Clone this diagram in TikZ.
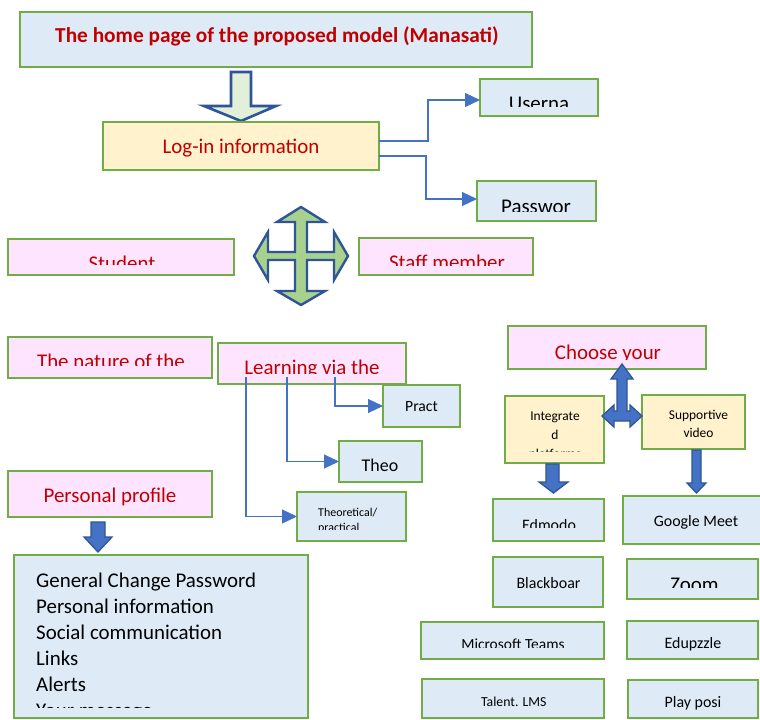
\documentclass[tikz,border=0pt]{standalone}
\usepackage{fontspec}
\setmainfont{Carlito}
\usetikzlibrary{arrows.meta}
\definecolor{bgreen}{HTML}{70AD47}
\definecolor{fblue}{HTML}{DEEBF7}
\definecolor{fpink}{HTML}{FFE4FF}
\definecolor{fyellow}{HTML}{FFF2CC}
\definecolor{tred}{HTML}{C00000}
\definecolor{cblue}{HTML}{4472C4}
\definecolor{dblue}{HTML}{2F5597}
\definecolor{lgreen}{HTML}{E2F0D9}
\definecolor{mgreen}{HTML}{A9D18E}
\newcommand\mkbox[6]{\node[#1, minimum width={(#5-#3)*1bp}, minimum height={(#6-#4)*1bp}] (#2) at ({(#3+#5)/2},{(#4+#6)/2}) {};}
\newcommand\cliptxt[7]{\begin{scope}\clip (0,#5) rectangle (760,#6); \node[#2, anchor=base] (#1) at (#3,#4) {#7}; \end{scope}}
\tikzset{
  box/.style={draw=bgreen, line width=2.4bp, inner sep=0pt, outer sep=0pt},
  bluebox/.style={box, fill=fblue},
  pinkbox/.style={box, fill=fpink},
  yellowbox/.style={box, fill=fyellow},
  fs/.style={font=\fontsize{#1}{#1}\selectfont},
  rt/.style={text=tred, inner sep=0pt},
  bt/.style={text=black, inner sep=0pt},
  conn/.style={draw=cblue, line width=1.1bp, -{Triangle[length=15bp,width=14bp]}},
  blockarrow/.style={fill=cblue, draw=dblue, line width=1.3bp, line join=miter},
  hollowarrow/.style={fill=lgreen, draw=dblue, line width=2.6bp, line join=miter},
  crossarrow/.style={fill=mgreen, draw=dblue, line width=2.4bp, line join=miter}
}
\begin{document}
\begin{tikzpicture}[x=1bp,y=-1bp]
\useasboundingbox (0,0) rectangle (760,720);
\fill[white] (0,0) rectangle (760,720);

% ---------- top ----------
\mkbox{bluebox}{title}{20}{12}{532}{67}
\node[rt, font=\bfseries\fontsize{21.4}{21.4}\selectfont, anchor=base] (ttitle) at (277,43) {The home page of the proposed model (Manasati)};

\draw[hollowarrow] (231,72) -- (251,72) -- (251,106) -- (276,106) -- (241,121) -- (204,106) -- (231,106) -- cycle;

\mkbox{yellowbox}{login}{103}{122}{379}{170}
\node[rt, fs=21, anchor=base] (tlogin) at (241,153) {Log-in information};

\mkbox{bluebox}{user}{480}{79}{598}{116}
\cliptxt{tuser}{bt, fs=21}{539}{110.5}{79}{106.5}{Userna}
\mkbox{bluebox}{pass}{477}{181}{596}{221}
\cliptxt{tpass}{bt, fs=21}{536}{213.5}{181}{211.5}{Passwor}

\draw[conn] ([yshift=5bp]login.east) -| ([xshift=-52bp,yshift=-2.5bp]user.west) -- ([yshift=-2.5bp]user.west);
\draw[conn] ([yshift=-10bp]login.east) -| ([xshift=-51bp,yshift=2bp]pass.west) -- ([yshift=2bp]pass.west);

% ---------- student / staff ----------
\mkbox{pinkbox}{student}{8}{239}{234}{275}
\cliptxt{tstudent}{rt, fs=21}{122}{270.5}{239}{264}{Student}
\mkbox{pinkbox}{staff}{359}{238}{533}{275}
\cliptxt{tstaff}{rt, fs=21}{447}{269.5}{238}{265}{Staff member}

\draw[crossarrow] (301,207) -- (325,222) -- (307,222) -- (307,252) -- (334,252) -- (334,232) -- (348,256) -- (334,280) -- (334,260) -- (307,260) -- (307,291) -- (325,291) -- (301,305) -- (277,291) -- (295,291) -- (295,260) -- (268,260) -- (268,280) -- (254,256) -- (268,232) -- (268,252) -- (295,252) -- (295,222) -- (277,222) -- cycle;

% ---------- left middle ----------
\mkbox{pinkbox}{nature}{8}{337}{212}{378}
\cliptxt{tnature}{rt, fs=21}{111}{368.5}{337}{365}{The nature of the}
\mkbox{pinkbox}{learn}{218}{343}{406}{384}
\cliptxt{tlearn}{rt, fs=21}{312}{374}{343}{373}{Learning via the}

\mkbox{bluebox}{pract}{383}{385}{460}{427}
\node[bt, fs=15.7, anchor=base] (tpract) at (421.5,411) {Pract};
\mkbox{bluebox}{theo}{339}{441}{422}{482}
\node[bt, fs=18, anchor=base] (ttheo) at (380,471) {Theo};
\mkbox{bluebox}{tp}{297}{492}{406}{541}
\node[bt, fs=12, anchor=base west] (ttp1) at (318,516) {Theoretical/};
\begin{scope}\clip (0,492) rectangle (760,529.3);
\node[bt, fs=12, anchor=base west] (ttp2) at (318,531) {practical};
\end{scope}

\draw[conn] ([xshift=23bp,yshift=7bp]learn.south) |- (pract.west);
\draw[conn] ([xshift=-25bp,yshift=7bp]learn.south) |- (theo.west);
\draw[conn] ([xshift=-66bp,yshift=7bp]learn.south) |- (tp.west);

\mkbox{pinkbox}{profile}{8}{471}{212}{517}
\node[rt, fs=21, anchor=base] (tprofile) at (110,502) {Personal profile};
\draw[blockarrow] (91,522) -- (105,522) -- (105,537) -- (112,537) -- (98,552) -- (84,537) -- (91,537) -- cycle;

\mkbox{bluebox}{list}{14}{555}{308}{718}
\begin{scope}\clip (14,555) rectangle (308,707.5);
\foreach \t [count=\i] in {General Change Password, Personal information, Social communication, Links, Alerts, Your message}
  \node[bt, fs=21, anchor=base west] (l\i) at (36,{587+26*(\i-1)}) {\t};
\end{scope}

% ---------- right ----------
\mkbox{pinkbox}{choose}{508}{326}{706}{369}
\cliptxt{tchoose}{rt, fs=21}{608}{359}{326}{359.3}{Choose your}

\mkbox{yellowbox}{integ}{505}{396}{604}{463}
\node[bt, fs=13.5, anchor=base] (tint1) at (555,420) {Integrate};
\node[bt, fs=13.5, anchor=base] (tint2) at (555,439) {d};
\cliptxt{tint3}{bt, fs=13.5}{555}{458}{396}{451.6}{platforms}
\mkbox{yellowbox}{supp}{642}{395}{745}{449}
\node[bt, fs=13.5, anchor=base] (tsup1) at (698.5,419.3) {Supportive};
\node[bt, fs=13.5, anchor=base] (tsup2) at (698.5,437.3) {video};

\draw[blockarrow] (622,364) -- (633,379) -- (627,379) -- (627,411) -- (630,411) -- (630,405) -- (642,416) -- (630,427) -- (630,421) -- (614,421) -- (614,427) -- (602,416) -- (614,405) -- (614,411) -- (617,411) -- (617,379) -- (611,379) -- cycle;

\draw[blockarrow] (546,464) -- (559,464) -- (559,482) -- (568,482) -- (553.5,493) -- (539,482) -- (546,482) -- cycle;
\draw[blockarrow] (692,450) -- (701,450) -- (701,483) -- (706,483) -- (696.5,493) -- (687,483) -- (692,483) -- cycle;

\mkbox{bluebox}{edmodo}{493}{499}{604}{541}
\cliptxt{tedmodo}{bt, fs=16}{549}{530.5}{499}{527.8}{Edmodo}
\mkbox{bluebox}{gmeet}{623}{496}{778}{544}
\node[bt, fs=16, anchor=base] (tgmeet) at (696,526.7) {Google Meet};

\mkbox{bluebox}{bboard}{493}{557}{603}{607}
\node[bt, fs=16, anchor=base] (tbboard) at (548.5,588.3) {Blackboar};
\mkbox{bluebox}{zoom}{627}{559}{758}{599}
\cliptxt{tzoom}{bt, fs=21}{694.5}{591}{559}{587.5}{Zoom}

\mkbox{bluebox}{teams}{421}{622}{604}{659}
\cliptxt{tteams}{bt, fs=15.5}{513}{649.5}{622}{647.6}{Microsoft Teams}
\mkbox{bluebox}{edpz}{627}{621}{758}{659}
\cliptxt{tedpz}{bt, fs=16}{693}{648.5}{621}{650.3}{Edupzzle}

\mkbox{bluebox}{talent}{422}{679}{604}{718}
\node[bt, fs=13.8, anchor=base] (ttalent) at (513.8,706) {Talent. LMS};
\mkbox{bluebox}{playposi}{628}{680}{758}{718}
\node[bt, fs=16, anchor=base] (tplay) at (693,707) {Play posi};
\end{tikzpicture}
\end{document}
